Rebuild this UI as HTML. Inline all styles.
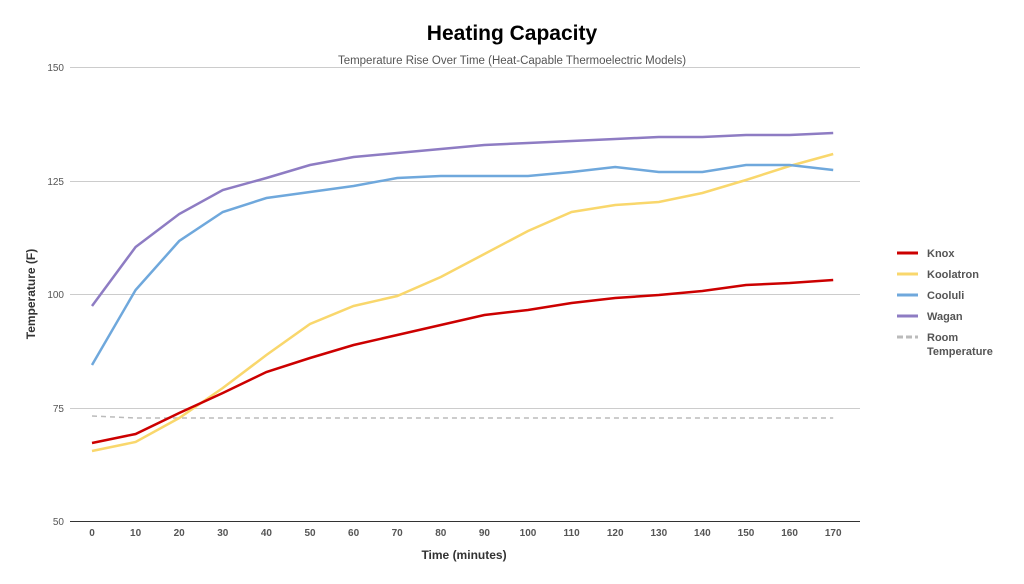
<!DOCTYPE html>
<html><head><meta charset="utf-8"><style>
body{margin:0;background:#fff;}
svg{display:block;font-family:"Liberation Sans",sans-serif;}
</style></head><body>
<svg width="1024" height="584" viewBox="0 0 1024 584">
<rect width="1024" height="584" fill="#fff"/>
<text x="512" y="40" text-anchor="middle" font-size="21" font-weight="bold" fill="#000">Heating Capacity</text>
<text x="512" y="64" text-anchor="middle" font-size="11.5" fill="#555">Temperature Rise Over Time  (Heat-Capable Thermoelectric Models)</text>
<g stroke="#ccc" stroke-width="1">
<line x1="70" y1="67.5" x2="860" y2="67.5"/>
<line x1="70" y1="181.5" x2="860" y2="181.5"/>
<line x1="70" y1="294.5" x2="860" y2="294.5"/>
<line x1="70" y1="408.5" x2="860" y2="408.5"/>
</g>
<line x1="70" y1="521.5" x2="860" y2="521.5" stroke="#333" stroke-width="1"/>
<g font-size="10" fill="#555" text-anchor="end">
<text x="64" y="71">150</text><text x="64" y="185">125</text><text x="64" y="298">100</text><text x="64" y="412">75</text><text x="64" y="525">50</text>
</g>
<g font-size="10" fill="#555" text-anchor="middle" font-weight="bold">
<text x="92" y="536">0</text><text x="135.6" y="536">10</text><text x="179.2" y="536">20</text><text x="222.8" y="536">30</text><text x="266.4" y="536">40</text><text x="310" y="536">50</text><text x="353.6" y="536">60</text><text x="397.2" y="536">70</text><text x="440.8" y="536">80</text><text x="484.4" y="536">90</text><text x="528" y="536">100</text><text x="571.6" y="536">110</text><text x="615.2" y="536">120</text><text x="658.8" y="536">130</text><text x="702.4" y="536">140</text><text x="746" y="536">150</text><text x="789.6" y="536">160</text><text x="833.2" y="536">170</text>
</g>
<text x="464" y="559" text-anchor="middle" font-size="12" font-weight="bold" fill="#333">Time (minutes)</text>
<text transform="translate(35,294) rotate(-90)" text-anchor="middle" font-size="12" font-weight="bold" fill="#333">Temperature (F)</text>
<polyline fill="none" stroke="#bbb" stroke-width="1.5" stroke-dasharray="5,4" points="92,416 135.6,418 833.2,418"/>
<polyline fill="none" stroke="#f9d76c" stroke-width="2.5" points="92,451 135.6,442 179.2,418 222.8,388 266.4,355 310,324 353.6,306 397.2,296 440.8,277 484.4,254 528,231 571.6,212 615.2,205 658.8,202 702.4,193 746,180 789.6,166 833.2,154"/>
<polyline fill="none" stroke="#c00" stroke-width="2.5" points="92,443 135.6,434 179.2,413 222.8,393 266.4,372 310,358 353.6,345 397.2,335 440.8,325 484.4,315 528,310 571.6,303 615.2,298 658.8,295 702.4,291 746,285 789.6,283 833.2,280"/>
<polyline fill="none" stroke="#6fa8dc" stroke-width="2.5" points="92,365 135.6,290 179.2,241 222.8,212 266.4,198 310,192 353.6,186 397.2,178 440.8,176 484.4,176 528,176 571.6,172 615.2,167 658.8,172 702.4,172 746,165 789.6,165 833.2,170"/>
<polyline fill="none" stroke="#8e7cc3" stroke-width="2.5" points="92,306 135.6,247 179.2,214 222.8,190 266.4,178 310,165 353.6,157 397.2,153 440.8,149 484.4,145 528,143 571.6,141 615.2,139 658.8,137 702.4,137 746,135 789.6,135 833.2,133"/>
<g font-size="11" font-weight="bold" fill="#555">
<line x1="897" y1="253" x2="918" y2="253" stroke="#c00" stroke-width="3"/><text x="927" y="257">Knox</text>
<line x1="897" y1="274" x2="918" y2="274" stroke="#f9d76c" stroke-width="3"/><text x="927" y="278">Koolatron</text>
<line x1="897" y1="295" x2="918" y2="295" stroke="#6fa8dc" stroke-width="3"/><text x="927" y="299">Cooluli</text>
<line x1="897" y1="316" x2="918" y2="316" stroke="#8e7cc3" stroke-width="3"/><text x="927" y="320">Wagan</text>
<line x1="897" y1="337" x2="918" y2="337" stroke="#bbb" stroke-width="3" stroke-dasharray="6,3"/><text x="927" y="341">Room</text><text x="927" y="355">Temperature</text>
</g>
</svg>
</body></html>
